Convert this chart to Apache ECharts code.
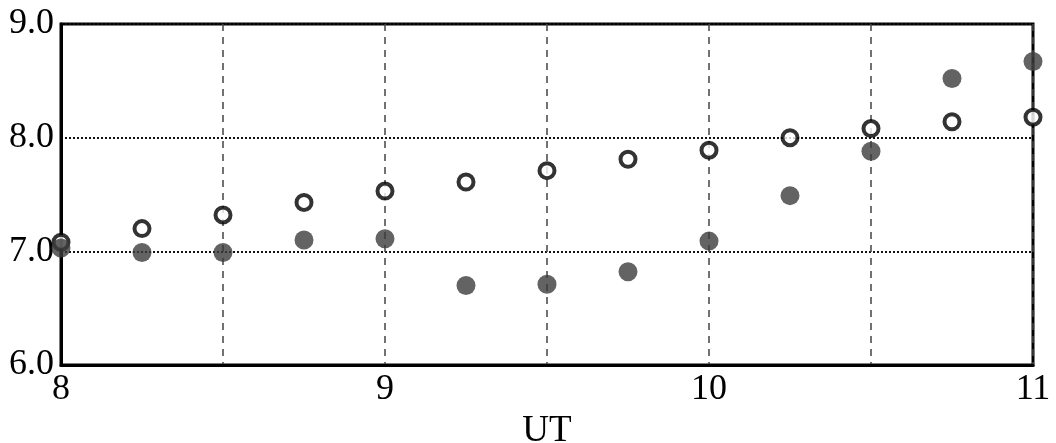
<!DOCTYPE html>
<html>
<head>
<meta charset="utf-8">
<script src="https://cdn.jsdelivr.net/npm/echarts@6/dist/echarts.min.js"></script>
<style>
  html, body { margin: 0; padding: 0; background: #fff; }
  #chart { width: 1056px; height: 443px; }
</style>
</head>
<body>
<div id="chart"></div>
<script>
	// time of the samples (UT)
	var ut = [8, 8.25, 8.5, 8.75, 9, 9.25, 9.5, 9.75, 10, 10.25, 10.5, 10.75, 11];
	// open circles
	var openVals = [7.08, 7.20, 7.32, 7.43, 7.53, 7.61, 7.71, 7.81, 7.89, 8.00, 8.08, 8.14, 8.18];
	// filled circles
	var filledVals = [7.03, 6.99, 6.99, 7.10, 7.11, 6.70, 6.71, 6.82, 7.09, 7.49, 7.88, 8.52, 8.67];

	var font = '"Liberation Serif"';

	function pairs(xs, ys) {
		var out = [];
		for (var i = 0; i < xs.length; i++) out.push([xs[i], ys[i]]);
		return out;
	}

	var graph = echarts.init(document.getElementById('chart'));

	graph.setOption({
		animation: false,
		grid: {
			left: 61, top: 24, right: 23, bottom: 78,
			outerBoundsMode: 'none',
			containLabel: false,
			show: true, borderColor: '#000', borderWidth: 3
		},
		xAxis: {
			type: 'value', min: 8, max: 11, interval: 0.5,
			name: 'UT', nameLocation: 'middle', nameGap: 38,
			nameTextStyle: { fontFamily: font, fontSize: 37, color: '#000' },
			axisLine: { lineStyle: { color: '#000', width: 3 } },
			axisTick: { show: false },
			axisLabel: {
				fontFamily: font, fontSize: 36, color: '#000', margin: 7,
				formatter: function (v) { return v % 1 === 0 ? String(v) : ''; }
			},
			splitLine: { show: true, lineStyle: { color: '#444', width: 1.5, type: [7, 6] } }
		},
		yAxis: {
			type: 'value', min: 6, max: 9, interval: 1,
			axisLine: { show: true, lineStyle: { color: '#000', width: 3 } },
			axisTick: { show: false },
			axisLabel: {
				fontFamily: font, fontSize: 36, color: '#000', margin: 7,
				formatter: function (v) { return v.toFixed(1); }
			},
			splitLine: { show: true, lineStyle: { color: '#111', width: 2, type: [2, 2] } }
		},
		series: [
			{
				type: 'scatter', data: pairs(ut, openVals),
				symbol: 'circle', symbolSize: 15,
				itemStyle: { color: '#fff', borderColor: '#000', borderWidth: 4 },
				z: 3
			},
			{
				type: 'scatter', data: pairs(ut, filledVals),
				symbol: 'circle', symbolSize: 19,
				itemStyle: { color: '#3c3c3c' },
				z: 4
			}
		]
	});
</script>
</body>
</html>
